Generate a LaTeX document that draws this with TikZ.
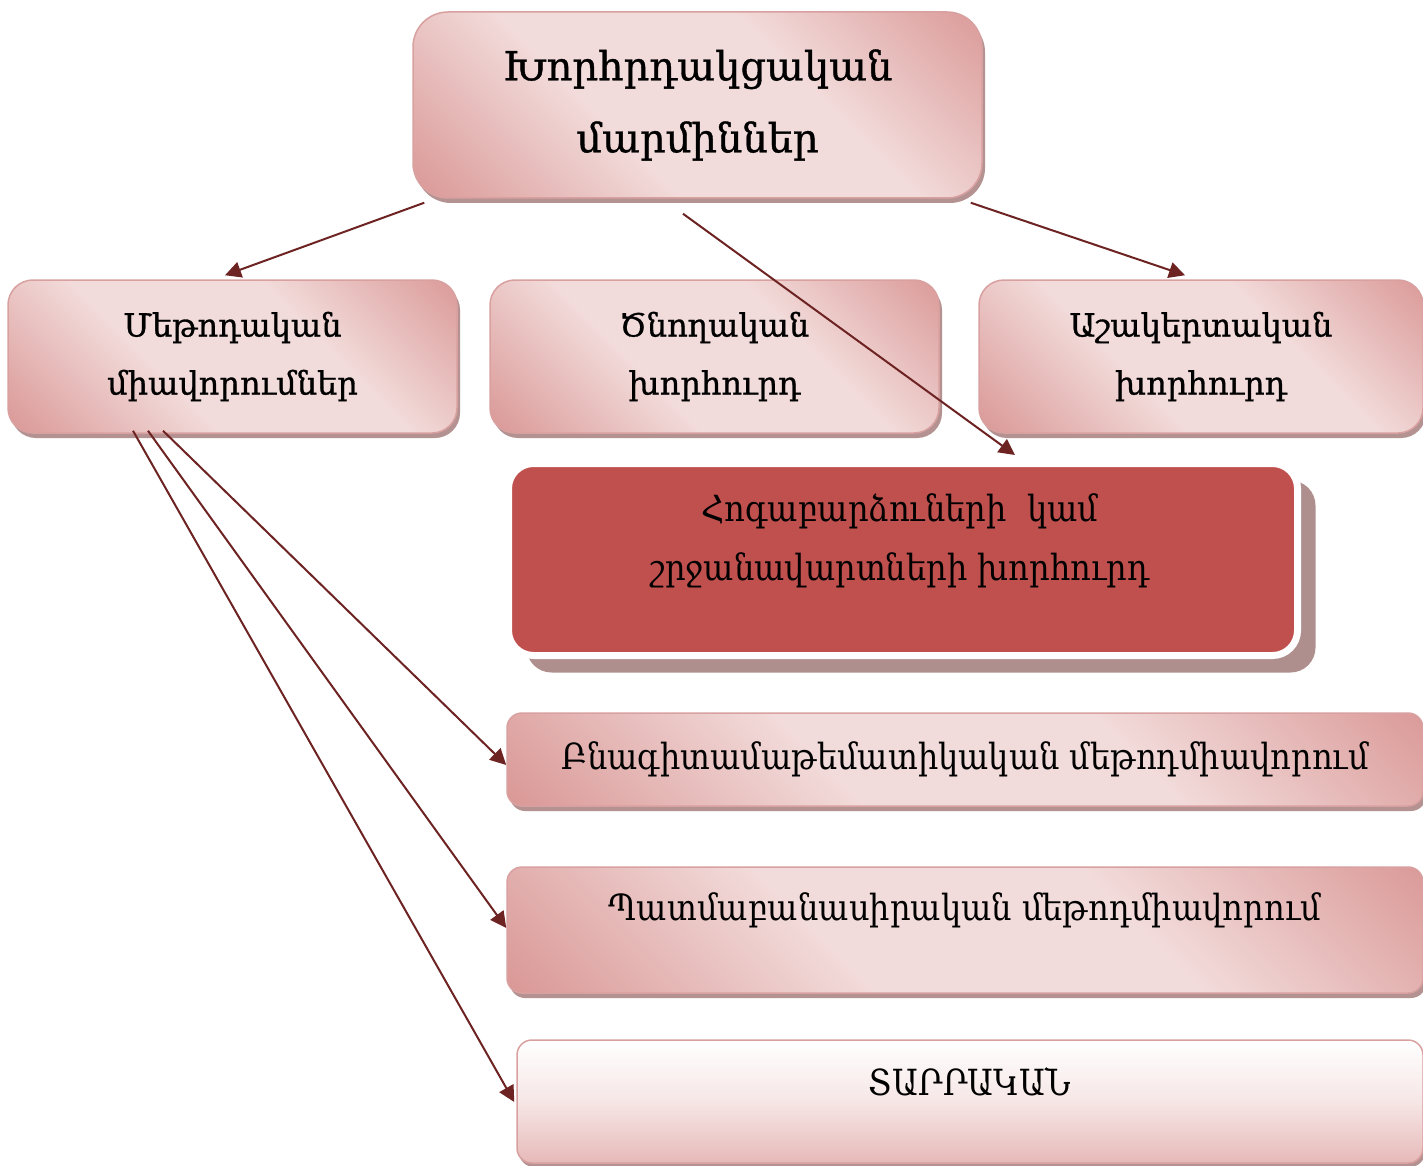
\documentclass[tikz,border=0pt]{standalone}
\usepackage{fontspec}
\setmainfont{DejaVu Serif}
\newfontfamily\headfont[FakeBold=0.9]{DejaVu Serif}
\newfontfamily\condfont[FakeStretch=0.89]{DejaVu Serif}
\usetikzlibrary{arrows.meta,calc,shadows}
\definecolor{plt}{HTML}{F2DCDB}
\definecolor{pdk}{HTML}{D99694}
\definecolor{pbord}{HTML}{D9A0A0}
\definecolor{pshad}{HTML}{B39291}
\definecolor{rshad}{HTML}{AF8F8E}
\definecolor{redfill}{HTML}{C0504D}
\definecolor{arrc}{HTML}{6E2323}
\definecolor{pbot}{HTML}{E6B9B8}
\pgfdeclarehorizontalshading{pinkband}{100bp}{color(0bp)=(pdk); color(14bp)=(pdk); color(40bp)=(plt); color(62bp)=(plt); color(87bp)=(pdk); color(100bp)=(pdk)}
\begin{document}
\begin{tikzpicture}[x=1pt,y=-1pt,
  pbox/.style={rectangle, rounded corners=#1, draw=pbord, line width=1.5pt,
    shading=pinkband, shading angle=45,
    drop shadow={fill=pshad, opacity=1, shadow xshift=3pt, shadow yshift=-5pt},
    align=center, inner sep=0pt},
  wbox/.style={rectangle, rounded corners=15pt, draw=pbord, line width=1.5pt,
    top color=white, bottom color=pbot, middle color=plt!70!white,
    drop shadow={fill=pshad, opacity=1, shadow xshift=2pt, shadow yshift=-4pt},
    inner sep=0pt},
  redbox/.style={rectangle, rounded corners=25pt, draw=white, line width=7pt, fill=redfill,
    drop shadow={fill=rshad, opacity=1, shadow xshift=18pt, shadow yshift=-17pt},
    inner sep=0pt},
  bigtxt/.style={font=\headfont\fontsize{40}{72}\selectfont, align=center},
  midtxt/.style={font=\headfont\fontsize{32}{58}\selectfont, align=center},
  lowtxt/.style={font=\condfont\fontsize{36}{59}\selectfont, align=center},
  arr/.style={draw=arrc, line width=2pt, -{Triangle[length=16pt,width=16pt]}, arrc}
]
\useasboundingbox (0,0) rectangle (1423,1166);
\fill[white] (0,0) rectangle (1423,1166);

\node[pbox=35pt, minimum width=569pt, minimum height=186pt, bigtxt] (top) at (697.5,105) {Խորհրդակցական\\մարմիններ};

\node[pbox=25pt, minimum width=449pt, minimum height=153pt, midtxt] (A) at (232.5,356.5) {Մեթոդական\\միավորումներ};
\node[pbox=25pt, minimum width=449pt, minimum height=153pt, midtxt] (B) at (714.5,356.5) {Ծնողական\\խորհուրդ};
\node[pbox=25pt, minimum width=444pt, minimum height=153pt, midtxt] (C) at (1201,356.5) {Աշակերտական\\խորհուրդ};

\node[redbox, minimum width=789pt, minimum height=192pt] (red) at (903,559.5) {};
\node[lowtxt] (redtxt) at (900,541) {Հոգաբարձուների\ \ կամ\\շրջանավարտների խորհուրդ};

\node[pbox=15pt, minimum width=916pt, minimum height=93pt, lowtxt] (b6) at (965,759.5) {Բնագիտամաթեմատիկական մեթոդմիավորում};

\node[pbox=15pt, minimum width=916pt, minimum height=126pt] (b7) at (965,930) {};
\node[lowtxt] (b7txt) at (965,910) {Պատմաբանասիրական մեթոդմիավորում};

\node[wbox, minimum width=906pt, minimum height=123pt] (b8) at (970,1101.5) {};
\node[lowtxt] (b8txt) at (970,1082) {ՏԱՐՐԱԿԱՆ};

\draw[arr] ($(top.south west)+(12,4)$) -- ($(A.north)+(-7.5,-4)$);
\draw[arr] ($(top.south)+(-14.5,15)$) -- ($(red.north)+(112,-5)$);
\draw[arr] ($(top.south east)+(-12,4)$) -- ($(C.north)+(-16,-4)$);
\draw[arr] ($(A.south)+(-69.5,-3)$) -- ($(b6.west)+(0,5.5)$);
\draw[arr] ($(A.south)+(-84.5,-3)$) -- ($(b7.west)+(0,-2)$);
\draw[arr] ($(A.south)+(-99.5,-3)$) -- ($(b8.west)+(-2,0.5)$);
\end{tikzpicture}
\end{document}
